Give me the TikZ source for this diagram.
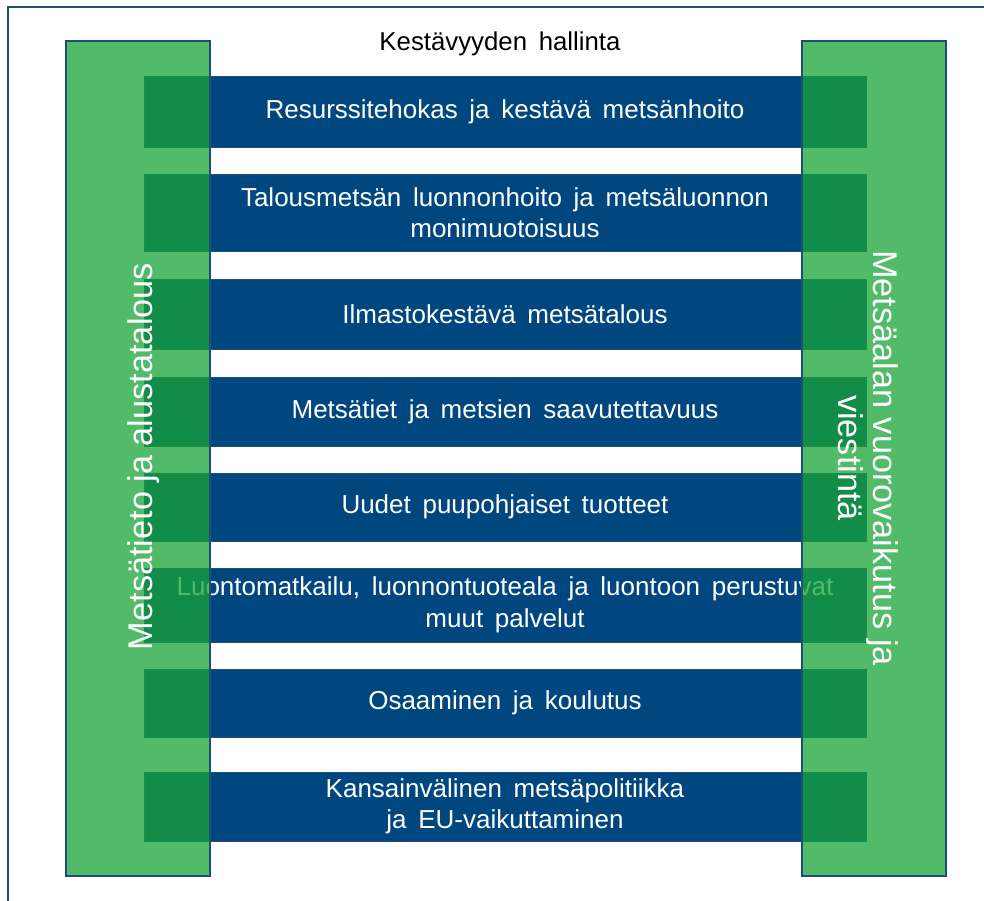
\documentclass[tikz,border=0pt]{standalone}
\usepackage{fontspec}
\setmainfont{Liberation Sans}
\usepackage{tikz}

\definecolor{barblue}{RGB}{0,71,128}
\definecolor{colgreen}{RGB}{23,164,55}
\definecolor{edgeblue}{RGB}{31,78,121}
\newcommand{\bartext}{\fontsize{26}{31.5}\selectfont\spaceskip=0.45em plus 0.1em minus 0.1em\relax}
\newcommand{\titletext}{\fontsize{25.8}{30}\selectfont\spaceskip=0.45em\relax}
\newcommand{\coltext}{\fontsize{34.3}{34.5}\selectfont}

\begin{document}
\begin{tikzpicture}[x=1pt,y=-1pt,
	bar/.style={fill=barblue, draw=edgeblue, line width=0.8pt, minimum width=722pt, inner sep=0pt, text=white, align=center, font=\bartext},
	col/.style={fill=colgreen, fill opacity=0.745, draw=edgeblue, line width=1.3pt, minimum width=144pt, minimum height=835pt, inner sep=0pt},
	collabel/.style={text=white, font=\coltext, inner sep=0pt, align=center}]

	\useasboundingbox (0,0) rectangle (984,901);
	\draw[edgeblue, line width=1.3pt] (8,901) -- (8,7) -- (984,7);

	\node (T) [anchor=base, font=\titletext] at (500,51) {Kestävyyden hallinta};

	\node (B1)[bar, minimum height=71pt] at (505,111.5) {Resurssitehokas ja kestävä metsänhoito};
	\node (B2)[bar, minimum height=77pt] at (505,212.5) {Talousmetsän luonnonhoito ja metsäluonnon\\monimuotoisuus};
	\node (B3)[bar, minimum height=70pt] at (505,314) {Ilmastokestävä metsätalous};
	\node (B4)[bar, minimum height=69pt] at (505,411.5) {Metsätiet ja metsien saavutettavuus};
	\node (B5)[bar, minimum height=68pt] at (505,507) {Uudet puupohjaiset tuotteet};
	\node (B6)[bar, minimum height=74pt] at (505,605) {Luontomatkailu, luonnontuoteala ja luontoon perustuvat\\muut palvelut};
	\node (B7)[bar, minimum height=68pt] at (505,703) {Osaaminen ja koulutus};
	\node (B8)[bar, minimum height=69pt] at (505,806.5) {Kansainvälinen metsäpolitiikka\\ja EU-vaikuttaminen};

	% side columns over the bars
	\node (L)[col] at (138,458.5) {};
	\node (R)[col] at (874,458.5) {};

	\node (LT)[collabel, rotate=90, anchor=base] at (152,456.5) {Metsätieto ja alustatalous};
	\node (RT)[collabel, rotate=-90] at (868,458) {Metsäalan vuorovaikutus ja\\viestintä};

\end{tikzpicture}
\end{document}
